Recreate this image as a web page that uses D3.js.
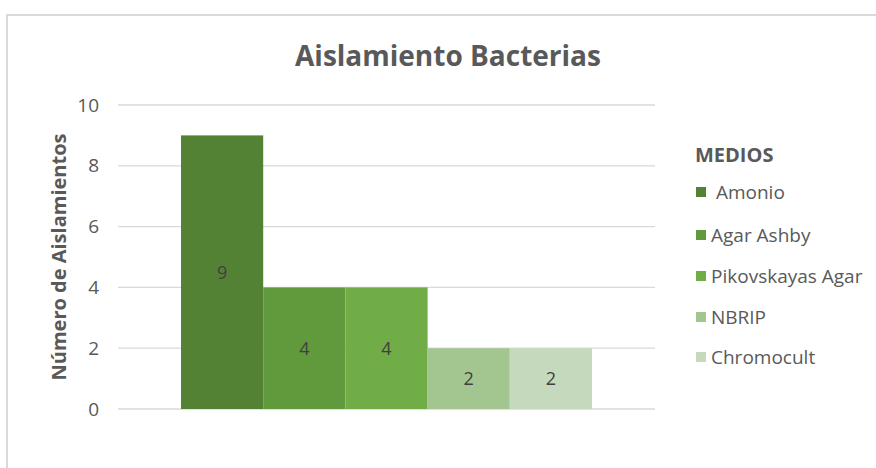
<!DOCTYPE html>
<html><head><meta charset="utf-8">
<script src="https://cdn.jsdelivr.net/npm/d3@7"></script>
<style>
html,body{margin:0;padding:0;background:#fff;}
svg{display:block;font-family:"Open Sans",sans-serif;}
</style></head>
<body>
<svg id="c" width="876" height="468"></svg>
<script>
const chartTitle = "Aislamiento Bacterias";
const yAxisTitle = "Número de Aislamientos";
const legendTitle = "MEDIOS";
const series = [" Amonio", "Agar Ashby", "Pikovskayas Agar", "NBRIP", "Chromocult"];
const values = [9, 4, 4, 2, 2];
const colors = ["#548235", "#609A3C", "#70AD47", "#A3C58F", "#C5D9BC"];
const yTicks = [0, 2, 4, 6, 8, 10];

const svg = d3.select("#c");
svg.append("rect").attr("x", 7).attr("y", 15).attr("width", 900).attr("height", 500)
  .attr("fill", "none").attr("stroke", "#d9d9d9").attr("stroke-width", 2);

const plot = {left: 118, right: 655, top: 105, bottom: 409};
const y = d3.scaleLinear().domain([0, 10]).range([plot.bottom, plot.top]);
const x = d3.scaleBand().domain(series).range([181, 592]).padding(0);

svg.append("g").selectAll("line").data(yTicks).join("line")
  .attr("x1", plot.left).attr("x2", plot.right)
  .attr("y1", d => y(d)).attr("y2", d => y(d))
  .attr("stroke", "#d9d9d9").attr("stroke-width", 1.3);

const yAxis = d3.axisLeft(y).tickValues(yTicks).tickSize(0).tickPadding(0);
const ga = svg.append("g").attr("transform", "translate(99,0)").call(yAxis);
ga.select(".domain").remove();
ga.selectAll("text").attr("font-size", 19).attr("fill", "#595959")
  .attr("font-family", "'Open Sans', sans-serif");

svg.append("g").selectAll("rect").data(series).join("rect")
  .attr("x", d => x(d)).attr("width", x.bandwidth())
  .attr("y", (d, i) => y(values[i])).attr("height", (d, i) => y(0) - y(values[i]))
  .attr("fill", (d, i) => colors[i]);

svg.append("g").selectAll("text").data(series).join("text")
  .attr("x", d => x(d) + x.bandwidth() / 2)
  .attr("y", (d, i) => (y(values[i]) + y(0)) / 2)
  .attr("dy", "0.35em").attr("text-anchor", "middle")
  .attr("font-size", 18).attr("fill", "#404040")
  .text((d, i) => values[i]);

svg.append("text").attr("x", 448).attr("y", 66).attr("text-anchor", "middle")
  .attr("font-size", 28).attr("font-weight", "bold").attr("fill", "#595959")
  .text(chartTitle);

svg.append("text").attr("transform", "translate(66,257) rotate(-90)")
  .attr("text-anchor", "middle").attr("font-size", 20).attr("font-weight", "bold")
  .attr("fill", "#595959").text(yAxisTitle);

svg.append("text").attr("x", 695).attr("y", 162).attr("font-size", 20)
  .attr("font-weight", "bold").attr("fill", "#595959").text(legendTitle);
const legY = [192, 235, 276, 317, 357];
const lg = svg.append("g").selectAll("g").data(series).join("g")
  .attr("transform", (d, i) => `translate(696,${legY[i]})`);
lg.append("rect").attr("x", 0).attr("y", -5).attr("width", 10).attr("height", 10)
  .attr("fill", (d, i) => colors[i]);
lg.append("text").attr("x", 15).attr("y", 0).attr("dy", "0.35em")
  .attr("font-size", 19).attr("fill", "#595959")
  .style("white-space", "pre").text(d => d);
</script>
</body></html>
